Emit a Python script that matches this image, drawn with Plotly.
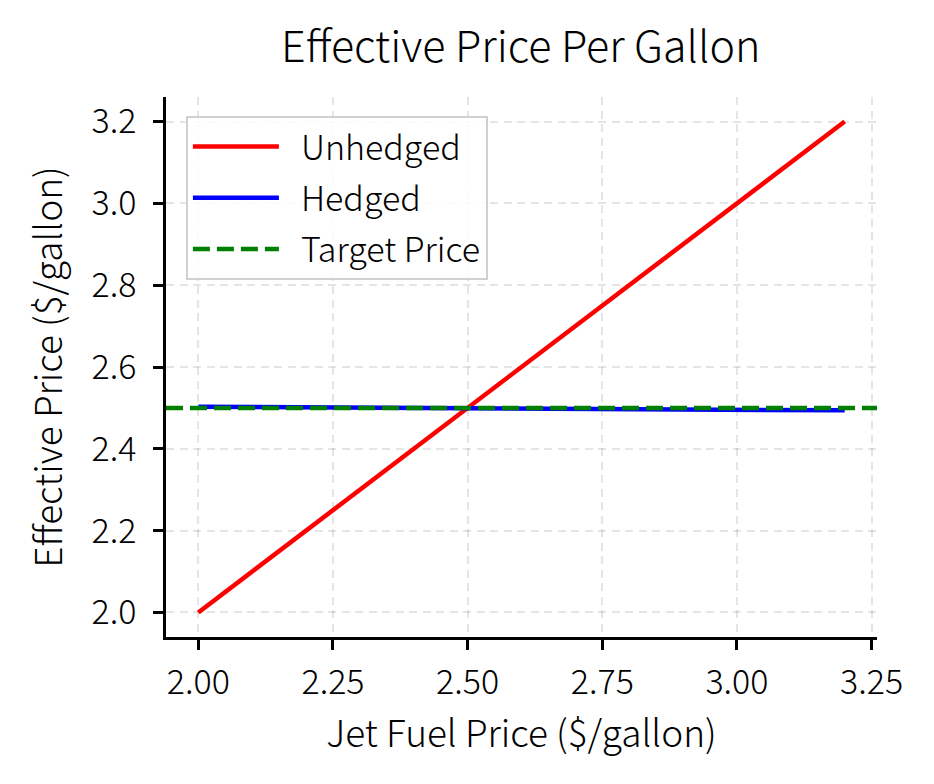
import plotly.graph_objects as go

# jet fuel scenario prices ($/gallon)
fuel_price = [2.0, 2.2, 2.4, 2.6, 2.8, 3.0, 3.2]
unhedged = [2.0, 2.2, 2.4, 2.6, 2.8, 3.0, 3.2]
hedged = [2.503, 2.5015, 2.500, 2.4985, 2.497, 2.4955, 2.494]
target_price = 2.5

x_ticks = [2.00, 2.25, 2.50, 2.75, 3.00, 3.25]
y_ticks = [2.0, 2.2, 2.4, 2.6, 2.8, 3.0, 3.2]

FONT = "Noto Sans CJK KR"
GAP = "\u2002"  # small gap between legend line and label

# matplotlib-like 5% margins
pad = 0.05 * (max(fuel_price) - min(fuel_price))
x_range = [min(fuel_price) - pad, max(fuel_price) + pad]
all_y = unhedged + hedged
ypad = 0.05 * (max(all_y) - min(all_y))
y_range = [min(all_y) - ypad, max(all_y) + ypad]

fig = go.Figure()
fig.add_trace(go.Scatter(x=fuel_price, y=unhedged, mode="lines", name=GAP + "Unhedged",
                         line=dict(color="red", width=4.5), legendgroup="a"))
fig.add_trace(go.Scatter(x=fuel_price, y=hedged, mode="lines", name=GAP + "Hedged",
                         line=dict(color="blue", width=4.5), legendgroup="b"))
fig.add_trace(go.Scatter(x=x_range, y=[target_price, target_price], mode="lines",
                         name=GAP + "Target Price", legendgroup="c",
                         line=dict(color="green", width=4.5, dash="17px,7px")))

grid = dict(showgrid=True, gridcolor="rgba(0,0,0,0.1)", gridwidth=2, griddash="8px,5.5px")

fig.update_layout(
    width=934, height=784,
    margin=dict(l=158, r=65, t=89, b=155),
    plot_bgcolor="white", paper_bgcolor="white",
    font=dict(family=FONT, size=34, color="black", weight=300),
    title=dict(text="Effective Price Per Gallon", x=0.549, xanchor="center",
               y=0.950, yanchor="middle", font=dict(size=43, weight=300)),
    xaxis=dict(range=x_range, tickvals=x_ticks, tickformat=".2f",
               title=dict(text="Jet Fuel Price ($/gallon)", font=dict(size=37, weight=300), standoff=18),
               showline=True, linecolor="black", linewidth=2.5,
               ticks="outside", ticklen=10, tickwidth=2.5, tickcolor="black",
               tickfont=dict(weight=300), ticklabelstandoff=3,
               zeroline=False, **grid),
    yaxis=dict(range=y_range, tickvals=y_ticks, tickformat=".1f",
               title=dict(text="Effective Price ($/gallon)", font=dict(size=37, weight=300), standoff=18),
               showline=True, linecolor="black", linewidth=2.5,
               ticks="outside", ticklen=10, tickwidth=2.5, tickcolor="black",
               tickfont=dict(weight=300), ticklabelstandoff=10,
               zeroline=False, **grid),
    legend=dict(x=0.028, y=0.965, xanchor="left", yanchor="top",
                bgcolor="rgba(255,255,255,0.85)", bordercolor="#d0d0d0", borderwidth=2,
                font=dict(size=34, weight=300), tracegroupgap=4, itemwidth=86),
    showlegend=True,
)

fig.write_html("out.html")
